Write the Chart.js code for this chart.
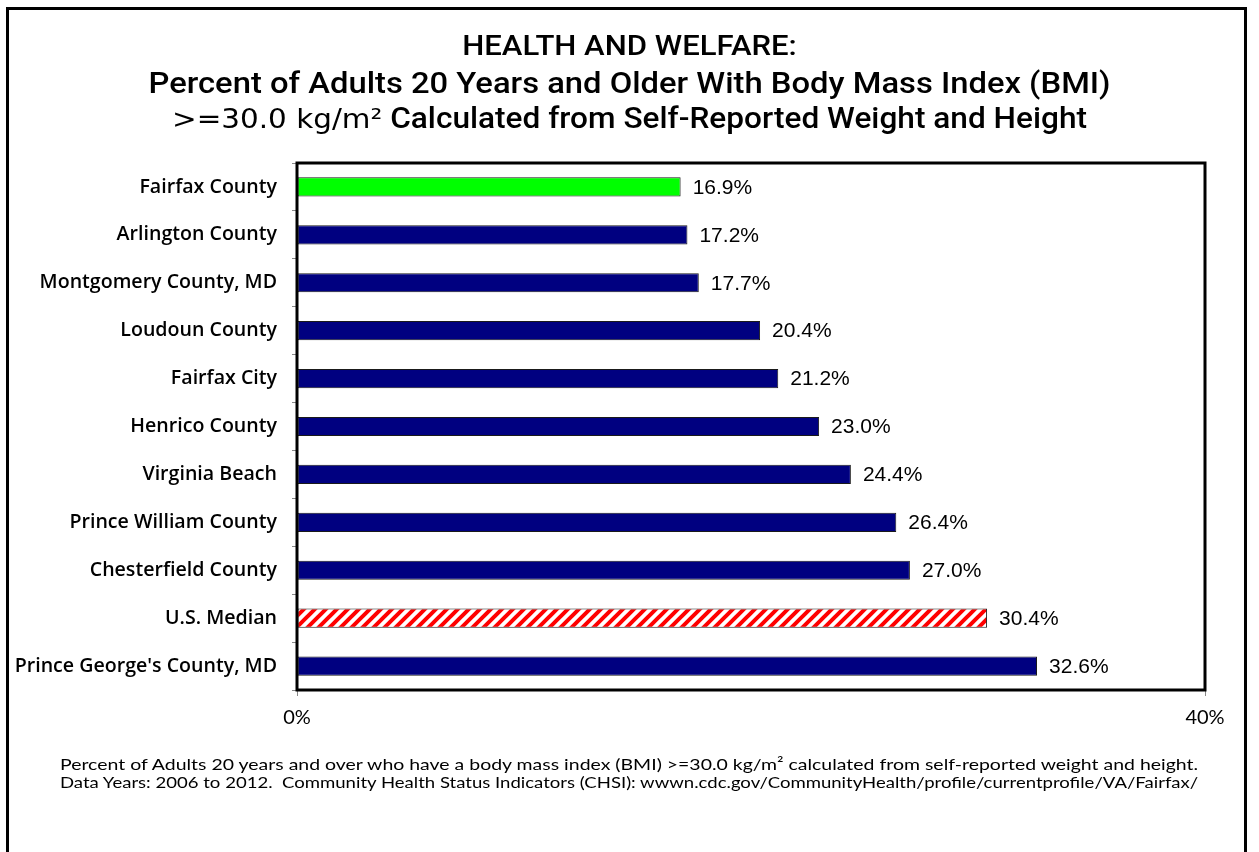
<!DOCTYPE html>
<html>
<head>
<meta charset="utf-8">
<script src="https://cdn.jsdelivr.net/npm/chart.js@4.4.1/dist/chart.umd.min.js"></script>
<style>
  html, body { margin: 0; padding: 0; background: #fff; overflow: hidden; }
  body { width: 1259px; height: 852px; position: relative; }
  #frame { position: absolute; left: 6px; top: 7px; width: 1241px; height: 900px; border: 3px solid #000; box-sizing: border-box; }
  #chart { position: absolute; left: 0; top: 0; }
  .t { position: absolute; left: 0; width: 1259px; text-align: center; font-family: Roboto, "Liberation Sans", sans-serif; font-weight: 500; color: #000; white-space: nowrap; transform-origin: 629.5px 50%; }
  .v { font-family: "DejaVu Sans", sans-serif; font-weight: normal; }
  .foot { position: absolute; left: 60px; font-family: Lato, "Open Sans", sans-serif; font-size: 16px; color: #000; white-space: nowrap; transform-origin: 0 50%; }
</style>
</head>
<body>
<div id="frame"></div>
<canvas id="chart" width="1259" height="852"></canvas>
<div class="t" style="top:29px;font-size:28px;transform:scaleX(1.11);">HEALTH AND WELFARE:</div>
<div class="t" style="top:66px;font-size:29px;transform:scaleX(1.13);">Percent of Adults 20 Years and Older With Body Mass Index (BMI)</div>
<div class="t" style="top:101px;font-size:29px;transform:scaleX(1.09);"><span class="v" style="font-size:27px;">&gt;=30.0 kg/m²</span> Calculated from Self-Reported Weight and Height</div>
<div class="foot" style="top:754px;transform:scaleX(1.216);">Percent of Adults 20 years and over who have a body mass index (BMI) &gt;=30.0 kg/m² calculated from self-reported weight and height.</div>
<div class="foot" style="top:772px;transform:scaleX(1.159);">Data Years: 2006 to 2012.&nbsp; Community Health Status Indicators (CHSI): wwwn.cdc.gov/CommunityHealth/profile/currentprofile/VA/Fairfax/</div>
<script>
// ---- data ----
const categories = [
  "Fairfax County",
  "Arlington County",
  "Montgomery County, MD",
  "Loudoun County",
  "Fairfax City",
  "Henrico County",
  "Virginia Beach",
  "Prince William County",
  "Chesterfield County",
  "U.S. Median",
  "Prince George's County, MD"
];
const obesityPercent = [16.9, 17.2, 17.7, 20.4, 21.2, 23.0, 24.4, 26.4, 27.0, 30.4, 32.6];
const xTickValues = [0, 40];
const highlightCategory = "Fairfax County";
const benchmarkCategory = "U.S. Median";

// ---- styles ----
function hatchPattern() {
  const s = 11;
  const c = document.createElement('canvas');
  c.width = s; c.height = s;
  const g = c.getContext('2d');
  g.fillStyle = '#ffffff';
  g.fillRect(0, 0, s, s);
  g.strokeStyle = '#ff0000';
  g.lineWidth = 4;
  g.lineCap = 'square';
  [[-s, s, s, -s], [0, s, s, 0], [0, 2 * s, 2 * s, 0]].forEach(([x1, y1, x2, y2]) => {
    g.beginPath(); g.moveTo(x1, y1); g.lineTo(x2, y2); g.stroke();
  });
  const ctx = document.getElementById('chart').getContext('2d');
  return ctx.createPattern(c, 'repeat');
}
const pattern = hatchPattern();
const barColors = categories.map(c =>
  c === highlightCategory ? '#00ff00' : (c === benchmarkCategory ? pattern : '#000080'));

const frameBox = {
  id: 'frameBox',
  afterDraw(chart) {
    const a = chart.chartArea, ctx = chart.ctx;
    ctx.save();
    ctx.strokeStyle = '#000';
    ctx.lineWidth = 3;
    ctx.strokeRect(a.left, a.top, a.right - a.left, a.bottom - a.top);
    ctx.restore();
  }
};
const valueLabels = {
  id: 'valueLabels',
  afterDatasetsDraw(chart) {
    const ctx = chart.ctx;
    const meta = chart.getDatasetMeta(0);
    ctx.save();
    ctx.font = '21px "Liberation Sans", Arial, sans-serif';
    ctx.fillStyle = '#000';
    ctx.textAlign = 'left';
    ctx.textBaseline = 'middle';
    meta.data.forEach((bar, i) => {
      ctx.fillText(obesityPercent[i].toFixed(1) + '%', bar.x + 12, bar.y + 1);
    });
    ctx.restore();
  }
};

new Chart(document.getElementById('chart'), {
  type: 'bar',
  data: {
    labels: categories,
    datasets: [{
      data: obesityPercent,
      backgroundColor: barColors,
      borderColor: '#1a1a1a',
      borderWidth: 1,
      borderSkipped: false,
      barPercentage: 0.4,
      categoryPercentage: 1.0
    }]
  },
  options: {
    indexAxis: 'y',
    responsive: false,
    animation: false,
    layout: { padding: { top: 163, right: 54, bottom: 102, left: 0 } },
    plugins: { legend: { display: false }, title: { display: false }, tooltip: { enabled: false } },
    scales: {
      x: {
        min: 0, max: 40,
        afterFit(s) { s.height = 60; },
        afterBuildTicks(s) { s.ticks = xTickValues.map(v => ({ value: v })); },
        border: { display: false },
        grid: { drawOnChartArea: false, drawTicks: true, tickLength: 6, tickColor: '#888', lineWidth: 1 },
        ticks: { padding: 10, color: '#000', font: { family: 'Lato, "Open Sans", sans-serif', size: 20 }, callback: v => v + '%' }
      },
      y: {
        afterFit(s) { s.width = 297; },
        border: { display: false },
        grid: { drawOnChartArea: false, drawTicks: true, tickLength: 5, tickColor: '#888', lineWidth: 1, offset: true },
        ticks: { padding: 15, color: '#000', font: { family: '"Open Sans", Roboto, sans-serif', size: 19.6, weight: '600' } }
      }
    }
  },
  plugins: [frameBox, valueLabels]
});
</script>
</body>
</html>
